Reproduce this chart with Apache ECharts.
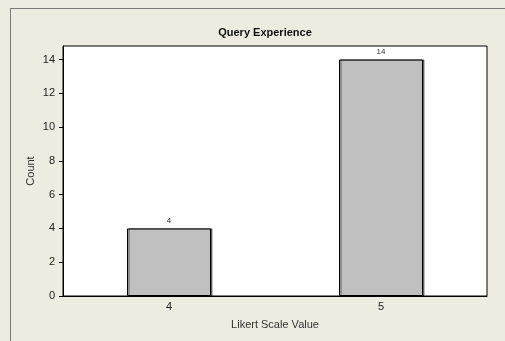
<!DOCTYPE html>
<html>
<head>
<meta charset="utf-8">
<style>
  html, body { margin: 0; padding: 0; background: #EEEBE1; }
  #chart { width: 505px; height: 341px; }
</style>
<script src="https://cdn.jsdelivr.net/npm/echarts@6/dist/echarts.min.js"></script>
</head>
<body>
<div id="chart"></div>
<script>
// data
var categories = ['4', '5'];
var counts = [4, 14];
var yTicks = [0, 2, 4, 6, 8, 10, 12, 14];

var chart = echarts.init(document.getElementById('chart'));
var option = {
    backgroundColor: '#EEEBE1',
    textStyle: { fontFamily: 'Liberation Sans' },
    title: {
        text: 'Query Experience',
        left: 260,
        top: 22,
        textAlign: 'center',
        textStyle: { fontSize: 11, fontWeight: 'bold', color: '#111' }
    },
    graphic: [
        { type: 'line', shape: { x1: 10, y1: 8.5, x2: 505, y2: 8.5 }, style: { stroke: '#7a7a7a', lineWidth: 1 } },
        { type: 'line', shape: { x1: 10.5, y1: 8, x2: 10.5, y2: 341 }, style: { stroke: '#7a7a7a', lineWidth: 1 } }
    ],
    grid: {
        left: 63, right: 18, top: 46, bottom: 45,
        show: true, backgroundColor: '#fff', borderColor: '#000', borderWidth: 1
    },
    xAxis: {
        type: 'category',
        data: categories,
        name: 'Likert Scale Value',
        nameLocation: 'middle',
        nameGap: 23,
        nameTextStyle: { fontSize: 11, color: '#333' },
        axisLine: { lineStyle: { color: '#000' } },
        axisTick: { alignWithLabel: true, length: 3, lineStyle: { color: '#000' } },
        axisLabel: { fontSize: 11, color: '#222', margin: 5 }
    },
    yAxis: {
        type: 'value',
        min: 0,
        max: 14.8,
        interval: 2,
        name: 'Count',
        nameLocation: 'middle',
        nameGap: 27,
        nameRotate: 90,
        nameMoveOverlap: false,
        nameTextStyle: { fontSize: 11, color: '#333' },
        axisLine: { show: true, lineStyle: { color: '#000' } },
        axisTick: { show: true, length: 4, customValues: yTicks, lineStyle: { color: '#000' } },
        axisLabel: { fontSize: 11, color: '#222', margin: 8, customValues: yTicks },
        splitLine: { show: false }
    },
    series: [{
        type: 'bar',
        data: counts,
        barWidth: 84,
        itemStyle: {
            color: '#C0C0C0', borderColor: '#000', borderWidth: 1,
            shadowColor: 'rgba(0,0,0,0.5)', shadowOffsetX: 1.5, shadowBlur: 0
        },
        label: { show: true, position: 'top', fontSize: 8, color: '#333', distance: 4 }
    }]
};
chart.setOption(option);
</script>
</body>
</html>
